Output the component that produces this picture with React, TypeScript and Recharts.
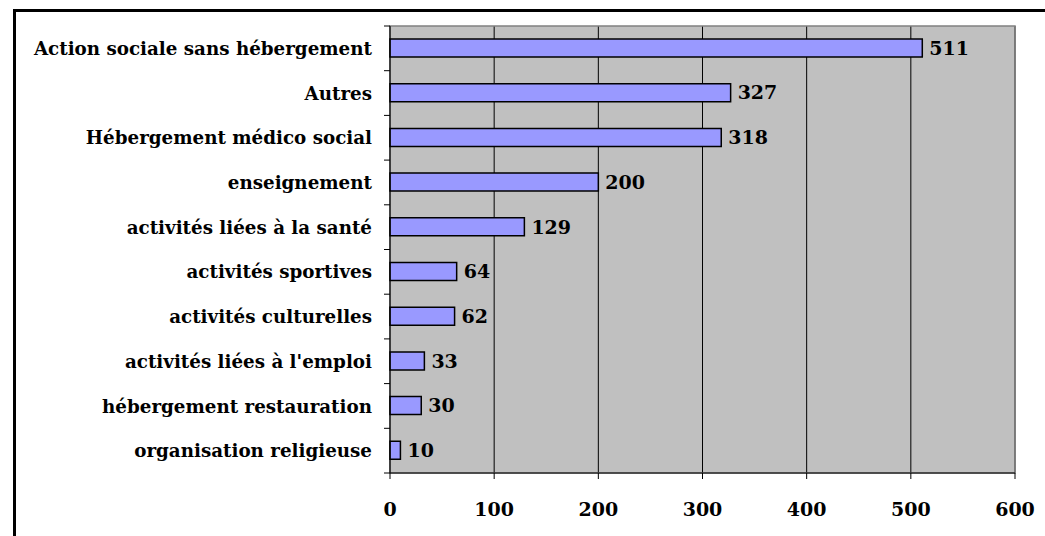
import { Bar, BarChart, CartesianGrid, LabelList, ReferenceArea, XAxis, YAxis } from "recharts";

const categories = [
  "Action sociale sans hébergement",
  "Autres",
  "Hébergement médico social",
  "enseignement",
  "activités liées à la santé",
  "activités sportives",
  "activités culturelles",
  "activités liées à l'emploi",
  "hébergement restauration",
  "organisation religieuse",
];
const counts = [511, 327, 318, 200, 129, 64, 62, 33, 30, 10];
const xTicks = [0, 100, 200, 300, 400, 500, 600];

const data = categories.map((name, i) => ({ name, value: counts[i] }));

const FONT = "'DejaVu Serif', serif";

// category labels with Excel-style tick marks between the bands
function CategoryTick(props: any) {
  const { x, y, payload, index } = props;
  const half = payload?.offset ?? 0;
  const last = index === categories.length - 1;
  return (
    <g>
      <line x1={x - 6} x2={x} y1={y - half} y2={y - half} stroke="#000" />
      {last && <line x1={x - 6} x2={x} y1={y + half} y2={y + half} stroke="#000" />}
      <text x={x - 18} y={y} dy="0.36em" textAnchor="end" fontFamily={FONT} fontWeight="bold" fontSize={18.3} fill="#000">
        {payload.value}
      </text>
    </g>
  );
}

export default function App() {
  return (
    <div style={{ position: "absolute", left: 0, top: 0, width: 1045, height: 536, overflow: "hidden", background: "#fff" }}>
      <div style={{ position: "absolute", left: 13, top: 9, width: 1100, height: 600, border: "3px solid #000", boxSizing: "border-box" }} />
      <div style={{ position: "absolute", left: 0, top: 0 }}>
        <BarChart
          width={1045}
          height={536}
          data={data}
          layout="vertical"
          barSize={18}
          margin={{ top: 26, right: 30, bottom: 0, left: 0 }}
        >
          <CartesianGrid horizontal={false} stroke="#000" fill="#c0c0c0" />
          <ReferenceArea x1={0} x2={600} fill="none" stroke="#808080" strokeWidth={1.5} ifOverflow="visible" />
          <XAxis
            type="number"
            domain={[0, 600]}
            ticks={xTicks}
            height={63}
            stroke="#000"
            tickSize={6}
            tickMargin={24}
            tick={{ fill: "#000", fontFamily: FONT, fontWeight: "bold", fontSize: 19 }}
          />
          <YAxis
            type="category"
            dataKey="name"
            width={390}
            stroke="#000"
            tickLine={false}
            tickSize={0}
            tickMargin={0}
            interval={0}
            tick={<CategoryTick />}
          />
          <Bar dataKey="value" fill="#9999ff" stroke="#000" strokeWidth={1.5} isAnimationActive={false}>
            <LabelList
              dataKey="value"
              position="right"
              offset={7}
              fill="#000"
              fontFamily={FONT}
              fontWeight="bold"
              fontSize={19}
            />
          </Bar>
        </BarChart>
      </div>
    </div>
  );
}
